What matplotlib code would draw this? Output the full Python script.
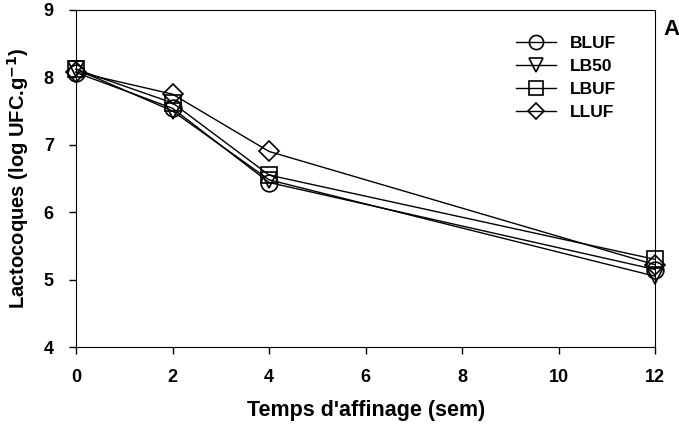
import numpy as np
import matplotlib
matplotlib.use('Agg')
import matplotlib.pyplot as plt

weeks = [0, 2, 4, 12]
series_names = ['BLUF', 'LB50', 'LBUF', 'LLUF']
bluf = [8.07, 7.54, 6.44, 5.15]
lb50 = [8.12, 7.50, 6.48, 5.05]
lbuf = [8.12, 7.62, 6.55, 5.30]
lluf = [8.08, 7.75, 6.90, 5.22]
markers = ['o', 'v', 's', 'D']

plt.rcParams['font.family'] = ['Liberation Sans', 'DejaVu Sans']
plt.rcParams['font.weight'] = 'bold'
plt.rcParams['mathtext.default'] = 'bf'

fig = plt.figure(figsize=(6.79, 4.28), dpi=100)
ax = fig.add_axes([0.112, 0.189, 0.853, 0.788])

for name, vals, m in zip(series_names, [bluf, lb50, lbuf, lluf], markers):
    ax.plot(weeks, vals, '-', color='black', lw=1.0, marker=m,
            ms=12 if m != 'D' else 10, mfc='none', mec='black', mew=1.2,
            label=name, clip_on=False)

ax.set_xlim(0, 12)
ax.set_ylim(4, 9)
ax.set_xticks([0, 2, 4, 6, 8, 10, 12])
ax.set_yticks([4, 5, 6, 7, 8, 9])
ax.tick_params(direction='out', length=5, width=1, labelsize=13, pad=11)
for lab in ax.get_xticklabels() + ax.get_yticklabels():
    lab.set_fontweight('bold')

ax.set_xlabel("Temps d'affinage (sem)", fontsize=15.5, fontweight='bold', labelpad=10)
ax.set_ylabel(r'Lactocoques (log UFC.g$^{-1}$)', fontsize=14.5, fontweight='bold', labelpad=9)

leg = ax.legend(loc='upper right', bbox_to_anchor=(0.96, 0.97), fontsize=12.5,
                frameon=False, handlelength=2.3, labelspacing=0.45,
                markerscale=0.85)
for t in leg.get_texts():
    t.set_fontweight('bold')

fig.text(0.977, 0.93, 'A', fontsize=16, fontweight='bold', ha='left', va='center')

fig.savefig('out.png', dpi=100)
